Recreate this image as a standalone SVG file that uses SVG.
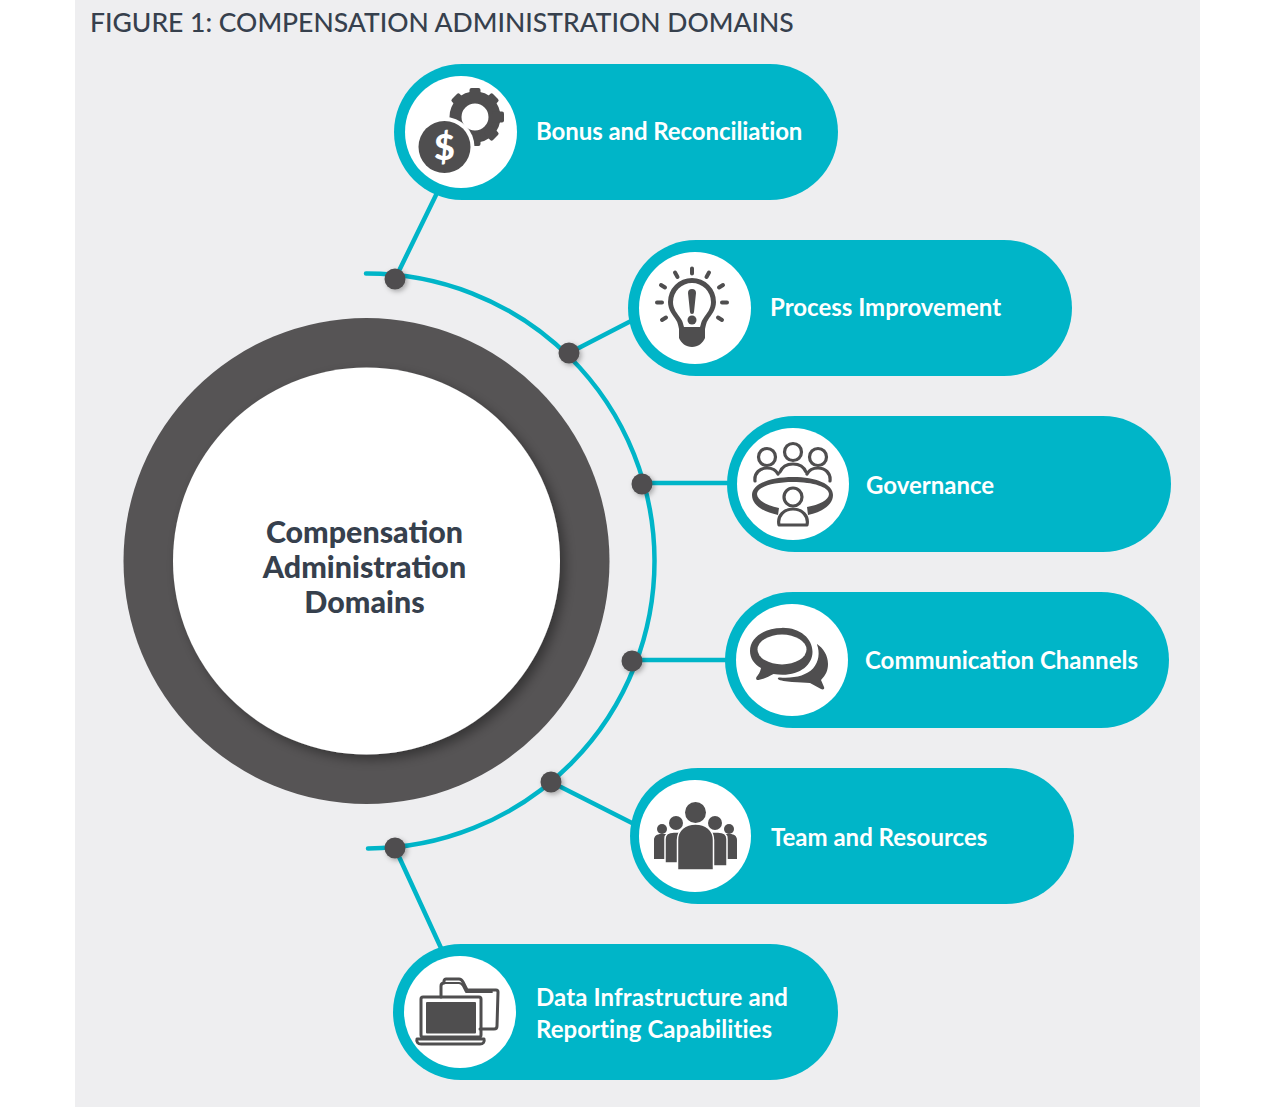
<svg xmlns="http://www.w3.org/2000/svg" width="1274" height="1107" viewBox="0 0 1274 1107">
<style>
.pill{fill:#00b5c8}
.disc{fill:#fff}
.lbl{font-family:"Lato","Liberation Sans",sans-serif;font-weight:700;font-size:24px;fill:#fff}
.ctr{font-family:"Lato","Liberation Sans",sans-serif;font-weight:900;font-size:30.400px;fill:#36404d;text-anchor:middle}
.ttl{font-family:"Lato","Liberation Sans",sans-serif;font-weight:500;font-size:26.500px;fill:#36404d}
.con{fill:none;stroke:#00b5c8;stroke-width:4.500;stroke-linecap:round}
.dot{fill:#4f4e4f;filter:url(#ds)}
.ic{fill:#4f4e4f}
.ics{fill:none;stroke:#4f4e4f;stroke-width:3.200;stroke-linejoin:round;stroke-linecap:round}
.sep{stroke:#fff;stroke-width:1.500}
</style>
<defs>
<filter id="ds" x="-50%" y="-50%" width="220%" height="220%"><feDropShadow dx="2" dy="2" stdDeviation="2.500" flood-color="#000" flood-opacity=".3"/></filter>
<filter id="bs" x="-20%" y="-20%" width="140%" height="140%"><feDropShadow dx="5" dy="5" stdDeviation="6" flood-color="#000" flood-opacity=".38"/></filter>
</defs>
<rect x="75" y="0" width="1125" height="1107" fill="#eeeef0"/>
<text class="ttl" x="90" y="32">FIGURE 1: COMPENSATION ADMINISTRATION DOMAINS</text>
<g id="connectors">
<path class="con" d="M366 273.500A287.500 287.500 0 0 1 368 848.500"/>
<path class="con" d="M436 195L395 279M631 321L569 353M727 483H642M726 660H632M632 823L551 782M441 948L395 848"/>
</g>
<g id="dots">
<circle class="dot" cx="395" cy="279" r="10.500"/>
<circle class="dot" cx="569" cy="353" r="10.500"/>
<circle class="dot" cx="642" cy="484" r="10.500"/>
<circle class="dot" cx="632" cy="661" r="10.500"/>
<circle class="dot" cx="551" cy="782" r="10.500"/>
<circle class="dot" cx="395" cy="848" r="10.500"/>
</g>
<g id="center">
<circle cx="366.500" cy="561" r="243" fill="#565455"/>
<circle cx="366.500" cy="561" r="193.500" fill="#fff" filter="url(#bs)"/>
<text class="ctr" x="364.500" y="543">Compensation</text>
<text class="ctr" x="364.500" y="578">Administration</text>
<text class="ctr" x="364.500" y="613">Domains</text>
</g>
<g id="bonus">
<rect class="pill" x="394" y="64" width="444" height="136" rx="68"/>
<circle class="disc" cx="461" cy="132" r="56"/>
<g transform="translate(475 117)">
<circle r="19.500" fill="none" stroke="#4f4e4f" stroke-width="12"/>
<g class="ic"><rect x="-5.500" y="-29" width="11" height="12" rx="2"/><rect x="-5.500" y="-29" width="11" height="12" rx="2" transform="rotate(45)"/><rect x="-5.500" y="-29" width="11" height="12" rx="2" transform="rotate(90)"/><rect x="-5.500" y="-29" width="11" height="12" rx="2" transform="rotate(135)"/><rect x="-5.500" y="-29" width="11" height="12" rx="2" transform="rotate(180)"/><rect x="-5.500" y="-29" width="11" height="12" rx="2" transform="rotate(-45)"/></g>
</g>
<circle cx="444.500" cy="147" r="30" fill="#fff"/>
<circle class="ic" cx="444.500" cy="147" r="26"/>
<text x="444.500" y="160" font-family="Lato,'Liberation Sans',sans-serif" font-weight="900" font-size="36" fill="#fff" text-anchor="middle">$</text>
<text class="lbl" x="536" y="140" letter-spacing="-.08">Bonus and Reconciliation</text>
</g>
<g id="process">
<rect class="pill" x="628" y="240" width="444" height="136" rx="68"/>
<circle class="disc" cx="695" cy="308" r="56"/>
<path class="ic" d="M692 278a24 24 0 0 1 24 24c0 8-5 13-8 18-2 3-2 5-3 9v9c-2 5-7 9-13 9s-11-4-13-9v-9c-1-4-1-6-3-9-3-5-8-10-8-18a24 24 0 0 1 24-24z"/>
<path fill="#fff" d="M692 283a19 19 0 0 1 19 19c0 7-4 11-8 17-2 3-2 5-3 8h-16c-1-3-1-5-3-8-4-6-8-10-8-17a19 19 0 0 1 19-19z"/>
<path class="ic" d="M688 293a4 4 0 0 1 8 0l-2 19a2 2 0 0 1-4 0z"/><circle class="ic" cx="692" cy="320" r="4.500"/>
<g stroke="#4f4e4f" stroke-width="4" stroke-linecap="round"><path d="M692 268.500v5M675 272.500l2.500 4.500M709 272.500l-2.500 4.500M661 285l4 2.500M723 285l-4 2.500M657 302.500h5M727 302.500h-5M662 320l4-2.500M722 320l-4-2.500"/></g>
<text class="lbl" x="770" y="316">Process Improvement</text>
</g>
<g id="governance">
<rect class="pill" x="727" y="416" width="444" height="136" rx="68"/>
<circle class="disc" cx="793" cy="484" r="56"/>
<g class="ics">
<circle cx="767" cy="457" r="8.500"/><circle cx="793" cy="452" r="8.500"/><circle cx="818" cy="457" r="8.500"/>
<path d="M755 481c-1-8 5-13 12-13 5 0 9 2 11 6M780 472c2-5 7-8 13-8s11 3 13 8M807 474c2-4 6-6 11-6 7 0 13 5 12 13"/>
</g>
<path class="ic" d="M778 515c-15-3-26-10-26-20 0-11 18-18 41-18s40 7 40 18c0 10-11 17-25 20l-1-8c12-2 22-7 22-13 0-7-16-12-36-12s-36 5-36 12c0 6 9 11 22 14z"/>
<g class="ics">
<circle cx="793" cy="497" r="9"/>
<path d="M779 525c-2-9 5-16 14-16s16 7 14 16z"/>
</g>
<text class="lbl" x="866" y="494">Governance</text>
</g>
<g id="communication">
<rect class="pill" x="725" y="592" width="444" height="136" rx="68"/>
<circle class="disc" cx="792" cy="660" r="56"/>
<path class="ic" d="M782 628c-18 0-32 10-32 23 0 7 4 13 11 17-1 5-3 7-4.500 9-1 2 0 3 2 3 6-1 11-4 15-6 3 .5 6 .7 9 .7 18 0 30-10 30-23s-12-24-30-24z"/>
<ellipse cx="782" cy="649.500" rx="24.500" ry="15" fill="#fff"/>
<path class="ic" d="M817 644c6 4 11 11 11 20 0 6-2 11-7 16l3 7c1 2-1 3-3 2l-11-6c-5 0-11-1-18-1-6-1-12-1-14-3-.5-1 0-1.500 2-1.500 15 1 26-2 33-9 6-7 7-16 4-24z"/>
<text class="lbl" x="865" y="669">Communication Channels</text>
</g>
<g id="team">
<rect class="pill" x="630" y="768" width="444" height="136" rx="68"/>
<circle class="disc" cx="695" cy="836" r="56"/>
<g class="ic">
<circle cx="662" cy="829" r="5"/><circle cx="729" cy="829" r="5"/>
<path d="M654 859v-19c0-4 3-6 7-6h5v25zM737 859v-19c0-4-3-6-7-6h-5v25z"/>
<circle cx="676" cy="823" r="7"/><circle cx="715" cy="823" r="7"/>
<path class="sep" d="M665 863v-24c0-5 4-7 9-7h8v31zM727 866v-27c0-5-4-7-9-7h-8v34z"/>
<circle cx="695.500" cy="812.500" r="10.500"/>
<path class="sep" d="M677.500 870v-30c0-10 8-16 18-16s18 6 18 16v30z"/>
</g>
<text class="lbl" x="771" y="846">Team and Resources</text>
</g>
<g id="data">
<rect class="pill" x="393" y="944" width="445" height="136" rx="68"/>
<circle class="disc" cx="460" cy="1012" r="56"/>
<g fill="none" stroke="#4f4e4f" stroke-width="3" stroke-linejoin="round" stroke-linecap="round">
<path d="M441 997v-11c0-2 1-3 3-3v-2c0-1 1-2 2-2h13c2 0 3 1 4 3l3 6c1 2 1 2 3 2h27c2 0 2 1 2 2l-1 34c0 2-1 3-3 3h-14"/>
<path d="M443 983h16c2 0 3 1 4 3l3 6h26" stroke-width="1.800"/>
<rect x="421" y="997" width="60" height="40" rx="2"/>
<path d="M417 1039h67c1 3-1 5-4 5h-59c-3 0-5-2-4-5z"/>
</g>
<rect class="ic" x="426" y="1002" width="50" height="31.500" rx="1"/>
<text class="lbl" x="536" y="1006" letter-spacing=".12">Data Infrastructure and</text>
<text class="lbl" x="536" y="1038" letter-spacing=".05">Reporting Capabilities</text>
</g>
</svg>
